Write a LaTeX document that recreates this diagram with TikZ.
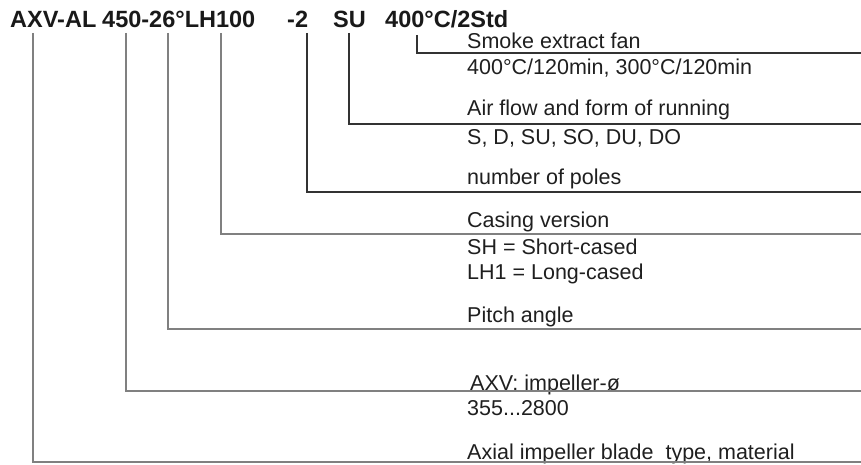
\documentclass[tikz,border=0pt]{standalone}
\usepackage{fontspec}
\setmainfont{Liberation Sans}
\begin{document}
\begin{tikzpicture}[x=1pt,y=-1pt,
  ttl/.style={anchor=base west,inner sep=0pt,font=\fontsize{23.5}{26}\selectfont\bfseries,text=black!90},
  lbl/.style={anchor=base west,inner sep=0pt,font=\fontsize{21.5}{24}\selectfont,text=black!88},
  dk/.style={draw=black!80,line width=1.2pt},
  gr/.style={draw=black!50,line width=1.4pt}]
\useasboundingbox (0,0) rectangle (861,465);
% title pieces
\node[ttl] (t1) at (10,27.5) {AXV-AL};
\node[ttl] (t2) at (102,27.5) {450-26°LH100};
\node[ttl] (t3) at (287,27.5) {-2};
\node[ttl] (t4) at (333,27.5) {SU};
\node[ttl] (t5) at (385,27.5) {400°C/2Std};
% labels
\node[lbl] (l1) at (467,49) {Smoke extract fan};
\node[lbl] (l1b) at (467,75) {400°C/120min, 300°C/120min};
\node[lbl] (l2) at (467,116) {Air flow and form of running};
\node[lbl] (l2b) at (467,145) {S, D, SU, SO, DU, DO};
\node[lbl] (l3) at (467,185) {number of poles};
\node[lbl] (l4) at (467,227) {Casing version};
\node[lbl] (l4b) at (467,254) {SH = Short-cased};
\node[lbl] (l4c) at (467,279) {LH1 = Long-cased};
\node[lbl] (l5) at (467,322) {Pitch angle};
\node[lbl] (l6) at (470,390) {AXV: impeller-ø};
\node[lbl] (l6b) at (467,415) {355...2800};
\node[lbl] (l7) at (467,459) {Axial impeller blade\ \ type, material};
% connector start points
\coordinate (s1) at (417,35);
\coordinate (s2) at (349,33);
\coordinate (s3) at (307,33);
\coordinate (s4) at (221,33);
\coordinate (s5) at (168,33);
\coordinate (s6) at (126,33);
\coordinate (s7) at (33,33);
% connector end points at right edge
\coordinate (e1) at (861,53);
\coordinate (e2) at (861,124);
\coordinate (e3) at (861,192);
\coordinate (e4) at (861,234);
\coordinate (e5) at (861,329);
\coordinate (e6) at (861,391);
\coordinate (e7) at (861,462);
\draw[dk] (s1) |- (e1);
\draw[dk] (s2) |- (e2);
\draw[dk] (s3) |- (e3);
\draw[gr] (s4) |- (e4);
\draw[gr] (s5) |- (e5);
\draw[gr] (s6) |- (e6);
\draw[gr] (s7) |- (e7);
\end{tikzpicture}
\end{document}
